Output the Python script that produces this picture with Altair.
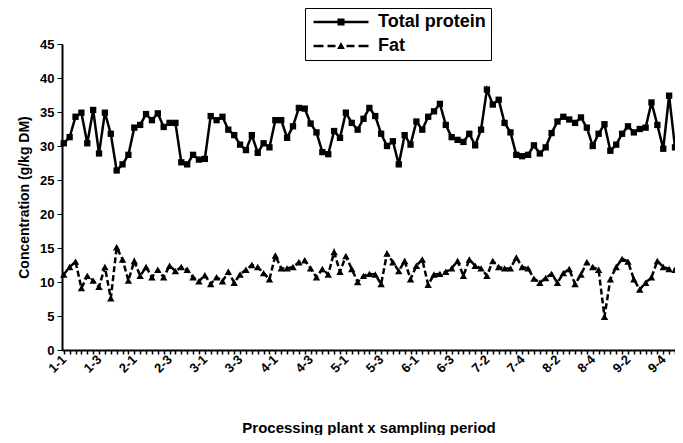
import altair as alt
import pandas as pd

tick_labels = ["1-1", "1-3", "2-1", "2-3", "3-1", "3-3", "4-1", "4-3", "5-1",
               "5-3", "6-1", "6-3", "7-2", "7-4", "8-2", "8-4", "9-2", "9-4"]
series_names = ["Total protein", "Fat"]

protein = [30.4, 31.3, 34.3, 34.9, 30.4, 35.3, 28.9, 34.9, 31.8, 26.4,
           27.3, 28.7, 32.7, 33.1, 34.7, 33.8, 34.8, 32.8, 33.4, 33.4,
           27.6, 27.3, 28.7, 28.0, 28.1, 34.4, 33.8, 34.3, 32.4, 31.6,
           30.2, 29.4, 31.6, 29.0, 30.4, 29.8, 33.8, 33.8, 31.2, 32.9,
           35.6, 35.5, 33.3, 32.0, 29.1, 28.8, 32.2, 31.2, 34.9, 33.4,
           32.4, 34.0, 35.6, 34.4, 31.8, 30.0, 30.7, 27.3, 31.6, 30.2,
           33.6, 32.4, 34.3, 35.1, 36.2, 33.1, 31.3, 30.9, 30.6, 31.8,
           30.1, 32.4, 38.3, 36.1, 36.8, 33.4, 32.0, 28.7, 28.5, 28.7,
           30.1, 28.9, 29.8, 31.9, 33.6, 34.3, 33.9, 33.4, 34.2, 32.7,
           30.0, 31.8, 33.2, 29.3, 30.2, 31.8, 32.9, 32.0, 32.5, 32.7,
           36.4, 33.1, 29.6, 37.4, 29.8]

fat = [11.1, 12.2, 13.0, 9.1, 10.9, 10.2, 9.3, 12.2, 7.6, 15.1,
       13.3, 10.2, 13.1, 10.9, 12.2, 10.7, 11.8, 10.7, 12.4, 11.6,
       12.2, 11.8, 10.7, 10.1, 11.0, 9.7, 10.7, 10.1, 11.5, 9.9,
       11.1, 11.8, 12.5, 12.2, 11.3, 10.4, 13.9, 12.0, 12.0, 12.2,
       12.9, 13.2, 12.0, 10.7, 11.9, 11.1, 14.4, 11.5, 13.8, 11.9,
       10.0, 10.9, 11.2, 11.1, 9.7, 14.2, 12.9, 11.6, 13.1, 10.4,
       12.4, 13.3, 9.6, 11.1, 11.2, 11.5, 12.0, 13.1, 10.9, 13.3,
       12.4, 12.0, 10.9, 13.1, 12.2, 12.0, 12.0, 13.6, 12.2, 12.0,
       10.5, 9.9, 10.6, 11.2, 9.9, 11.3, 11.9, 9.7, 11.1, 12.9,
       12.2, 11.8, 4.9, 10.4, 12.2, 13.4, 13.0, 10.4, 8.9, 9.9,
       10.7, 13.1, 12.2, 11.9, 11.8]

n = len(protein)
df = pd.DataFrame({
    "idx": list(range(n)) * 2,
    "value": protein + fat,
    "series": [series_names[0]] * n + [series_names[1]] * n,
})

FONT = "Liberation Sans"
label_expr = ("datum.value % 6 == 0 ? " + str(tick_labels) +
              "[datum.value / 6] : ''")

x_enc = alt.X("idx:Q",
              scale=alt.Scale(domain=[-0.3, n - 1], nice=False, zero=False),
              axis=alt.Axis(values=list(range(n)), labelExpr=label_expr,
                            labelOverlap=False, labelAngle=-45,
                            labelAlign="right", labelBaseline="middle",
                            labelFontSize=13, labelPadding=3, tickSize=4,
                            tickWidth=1.5,
                            title="Processing plant x sampling period",
                            titleFontSize=15, titleY=70,
                            titleBaseline="top"))
y_enc = alt.Y("value:Q",
              scale=alt.Scale(domain=[0, 45], nice=False),
              axis=alt.Axis(values=list(range(0, 50, 5)),
                            title="Concentration (g/kg DM)",
                            titleFontSize=14, labelFontSize=13,
                            tickSize=5, labelPadding=3, titlePadding=8))

base = alt.Chart(df)

lines = base.mark_line(color="black", strokeWidth=2.5).encode(
    x=x_enc, y=y_enc,
    strokeDash=alt.StrokeDash("series:N",
                              scale=alt.Scale(domain=series_names,
                                              range=[[1, 0], [6, 3]]),
                              legend=None),
    detail="series:N",
)

points = base.mark_point(filled=True, color="black", opacity=1).encode(
    x=x_enc, y=y_enc,
    shape=alt.Shape("series:N",
                    scale=alt.Scale(domain=series_names,
                                    range=["square", "triangle-up"]),
                    legend=None),
    size=alt.Size("series:N",
                  scale=alt.Scale(domain=series_names, range=[40, 55]),
                  legend=None),
)

path_protein = "M-1,-0.23H9V0.23H-1Z M3.36,-0.64H4.64V0.64H3.36Z"
path_fat = ("M-1,-0.23H0.82V0.23H-1Z M1.55,-0.23H3.0V0.23H1.55Z "
            "M5.0,-0.23H6.45V0.23H5.0Z M7.18,-0.23H9V0.23H7.18Z "
            "M3.3,0.55L4,-0.75L4.7,0.55Z")

legend_layer = base.transform_filter("false").mark_point(
    filled=True, color="black", opacity=1, size=121).encode(
    x=x_enc, y=y_enc,
    shape=alt.Shape("series:N",
                    scale=alt.Scale(domain=series_names,
                                    range=[path_protein, path_fat]),
                    legend=alt.Legend(title=None, orient="none",
                                      legendX=243, legendY=-36,
                                      symbolSize=121, symbolFillColor="black",
                                      symbolOpacity=1,
                                      labelFont=FONT, labelFontWeight="bold",
                                      labelFontSize=18, labelColor="black",
                                      labelOffset=50, rowPadding=6,
                                      padding=5, strokeColor="black",
                                      fillColor="white")),
)

chart = alt.layer(lines, points, legend_layer).resolve_scale(
    shape="independent"
).properties(
    width=613, height=306,
    padding={"left": 54, "top": 36, "right": 0, "bottom": 85},
    autosize=alt.AutoSizeParams(type="none"),
).configure_view(stroke=None).configure_axis(
    grid=False, domainColor="black", domainWidth=2, tickColor="black",
    labelFont=FONT, labelFontWeight="bold", labelColor="black",
    titleFont=FONT, titleFontWeight="bold", titleColor="black",
)

chart.save("out.html", embed_options={"renderer": "svg", "actions": False})
